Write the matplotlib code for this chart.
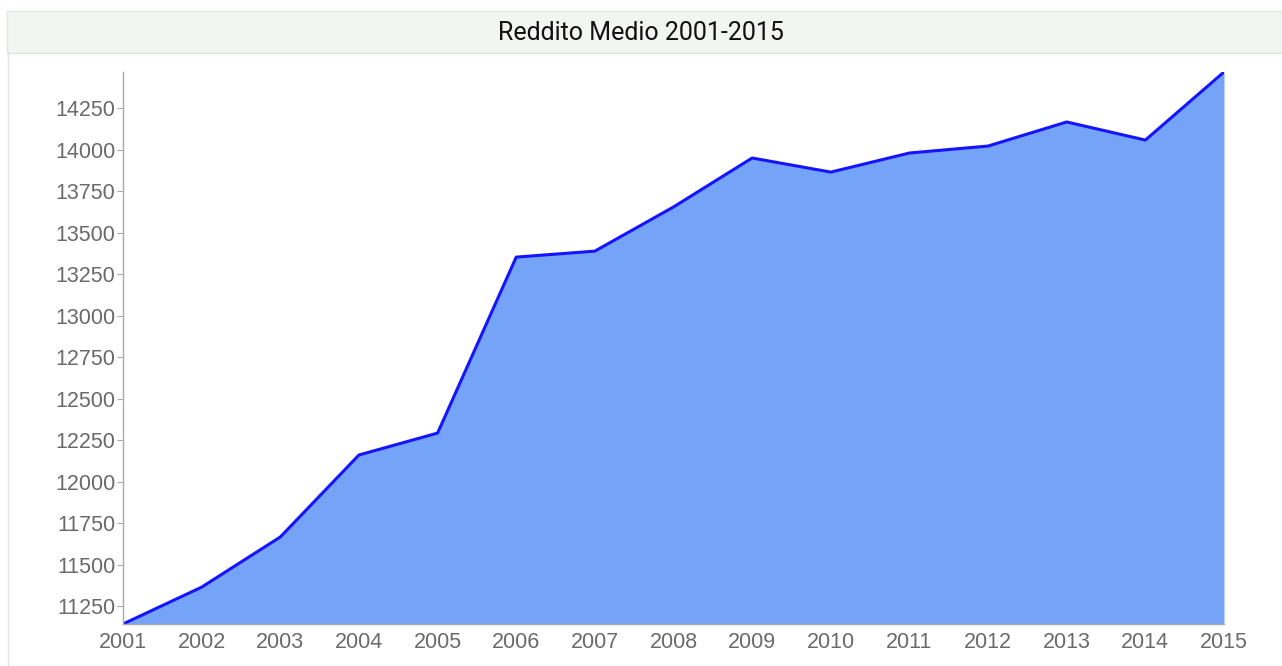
import matplotlib.pyplot as plt
from matplotlib.patches import Rectangle
from matplotlib.lines import Line2D

years = [2001, 2002, 2003, 2004, 2005, 2006, 2007, 2008,
         2009, 2010, 2011, 2012, 2013, 2014, 2015]
reddito = [11142, 11364, 11666, 12160, 12292, 13352, 13388, 13654,
           13949, 13864, 13979, 14021, 14166, 14057, 14467]
y_ticks = [11250, 11500, 11750, 12000, 12250, 12500, 12750, 13000,
           13250, 13500, 13750, 14000, 14250]

W, H = 1282, 666
fig = plt.figure(figsize=(W / 100, H / 100), dpi=100)

# panel frame + title bar
fig.patches.append(Rectangle((7 / W, 1 - 53 / H), 1 - 7 / W, 42 / H,
                             transform=fig.transFigure, facecolor='#f1f6f3',
                             edgecolor='#e0e4e2', linewidth=1))
fig.lines.append(Line2D([7.5 / W, 7.5 / W], [0, 1 - 53 / H],
                        transform=fig.transFigure, color='#e0e4e2', linewidth=1))
fig.text(0.5, 1 - 33 / H, "Reddito Medio 2001-2015", ha='center', va='center',
         fontsize=18, family='Roboto', color='#111111')

ax = fig.add_axes([123 / W, 42 / H, (1224 - 123) / W, (624 - 72) / H])
ax.fill_between(years, reddito, min(reddito), color='#75a3f8', linewidth=0)
ax.plot(years, reddito, color='#1414ff', linewidth=2.2, solid_joinstyle='round')

ax.set_xlim(years[0], years[-1])
ax.set_ylim(min(reddito), max(reddito))
ax.set_xticks(years)
ax.set_yticks(y_ticks)

for s in ['top', 'right']:
    ax.spines[s].set_visible(False)
for s in ['left', 'bottom']:
    ax.spines[s].set_color('#aaaaaa')
    ax.spines[s].set_linewidth(1)
ax.tick_params(axis='y', length=4, color='#aaaaaa', labelcolor='#6a6a6a',
               labelsize=15.5, pad=1.5)
ax.tick_params(axis='x', length=0, labelcolor='#6a6a6a', labelsize=15.5, pad=5.5)
for lab in ax.get_xticklabels() + ax.get_yticklabels():
    lab.set_family('Liberation Sans')

fig.savefig('out.png', dpi=100)
